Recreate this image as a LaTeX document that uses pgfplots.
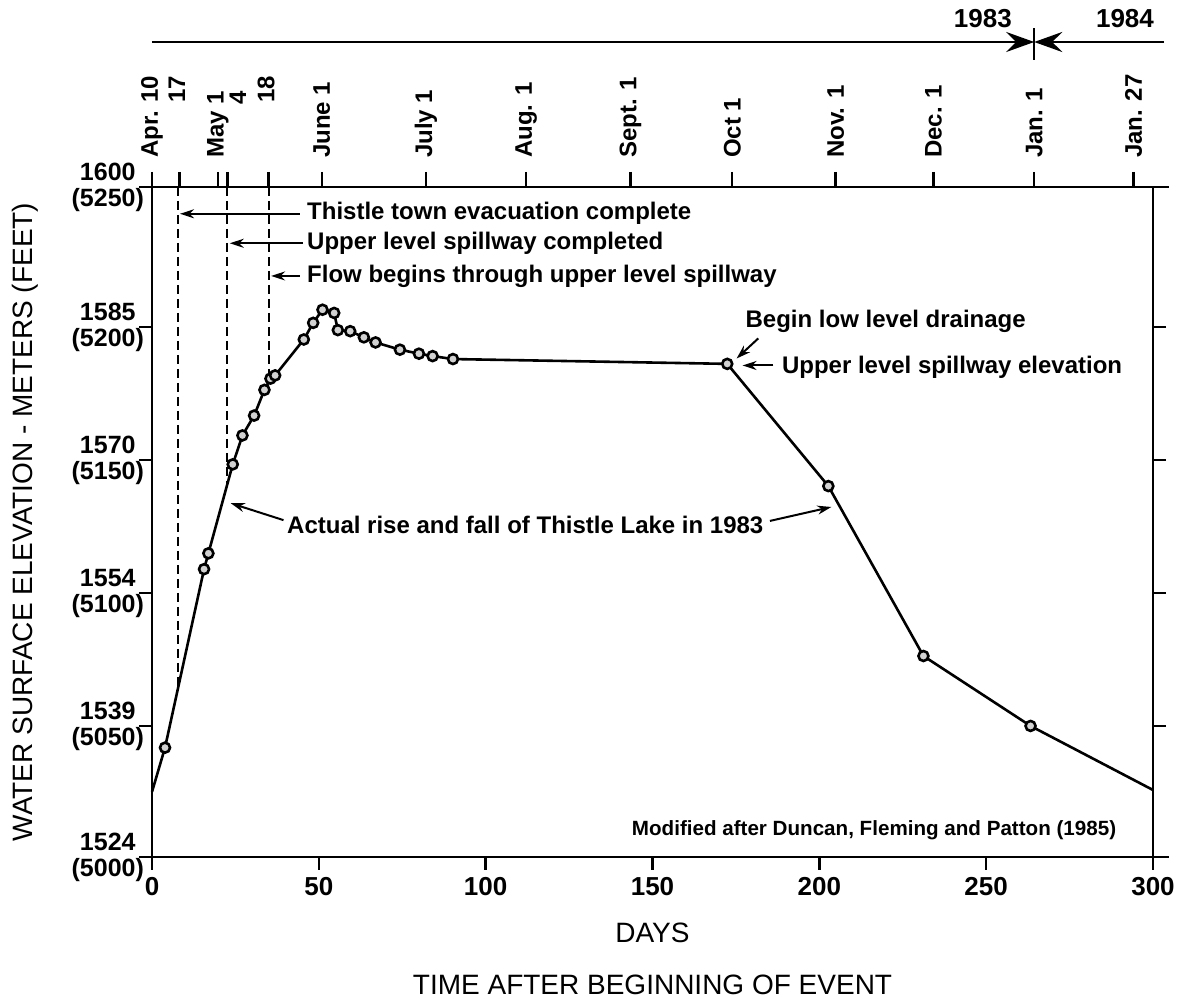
\documentclass[border=0pt]{standalone}
\usepackage{fontspec}
\setmainfont{Liberation Sans}
\usepackage{pgfplots}
\pgfplotsset{compat=1.18}
\usetikzlibrary{arrows.meta}

\newcommand{\annot}{\bfseries\fontsize{12}{14}\selectfont}

\begin{document}
\begin{tikzpicture}
\begin{axis}[
    scale only axis, width=500.5pt, height=335pt,
    xmin=0, xmax=300, ymin=5000, ymax=5250,
    clip=false,
    axis line style={line width=1.3pt},
    tick align=outside, major tick length=6.5pt,
    tick style={black, line width=1.2pt},
    xtick={0,50,100,150,200,250,300},
    xticklabels={0,50,100,150,200,250,300},
    xtick pos=left,
    ytick={5000,5048.9,5098.5,5148.1,5197.8,5250},
    yticklabels={{1524\\(5000)},{1539\\(5050)},{1554\\(5100)},{1570\\(5150)},{1585\\(5200)},{1600\\(5250)}},
    ytick pos=both, yticklabel pos=left,
    xticklabel style={font=\bfseries\fontsize{13}{13}\selectfont},
    yticklabel style={align=center, font=\bfseries\fontsize{12.5}{13}\selectfont, xshift=6pt},
]
\coordinate (O) at (rel axis cs:0,0);
\coordinate (T) at (rel axis cs:1,1);

% lake level, days after Apr. 10 1983 vs elevation in feet
\addplot[black, line width=1.3pt] coordinates {
    (0,5024.3) (3.9,5040.8) (15.6,5107.4) (16.9,5113.3) (24.2,5146.5) (27.1,5157.3)
    (30.6,5164.7) (33.7,5174.3) (35.5,5178.5) (36.9,5179.7) (45.5,5193.1) (48.3,5199.3)
    (51.1,5204.2) (54.6,5203.0) (55.7,5196.6) (59.4,5196.2) (63.5,5193.9) (67.0,5192.0)
    (74.3,5189.3) (80.0,5187.8) (84.1,5186.9) (90.2,5185.8) (172.4,5184.0) (202.7,5138.4)
    (231.2,5075.0) (263.3,5048.9) (300,5025.0)
};
\addplot[only marks, mark=*, mark size=2.5pt,
    mark options={fill=gray!35, draw=black, line width=1.3pt}] coordinates {
    (3.9,5040.8) (15.6,5107.4) (16.9,5113.3) (24.2,5146.5) (27.1,5157.3)
    (30.6,5164.7) (33.7,5174.3) (35.5,5178.5) (36.9,5179.7) (45.5,5193.1) (48.3,5199.3)
    (51.1,5204.2) (54.6,5203.0) (55.7,5196.6) (59.4,5196.2) (63.5,5193.9) (67.0,5192.0)
    (74.3,5189.3) (80.0,5187.8) (84.1,5186.9) (90.2,5185.8) (172.4,5184.0) (202.7,5138.4)
    (231.2,5075.0) (263.3,5048.9)
};

% event lines
\draw[line width=1pt, dash pattern=on 4.5pt off 2.5pt] (axis cs:7.7,5250) -- (axis cs:7.7,5062.4);
\draw[line width=1pt, dash pattern=on 4.5pt off 2.5pt] (axis cs:22.6,5250) -- (axis cs:22.6,5139.5);
\draw[line width=1pt, dash pattern=on 4.5pt off 2.5pt] (axis cs:35.0,5250) -- (axis cs:35.0,5177.3);

% longer axis lines as in the original
\draw[line width=1.3pt] ([xshift=-6pt]rel axis cs:0,1) -- ([xshift=8pt]rel axis cs:1,1);
\draw[line width=1.3pt] ([xshift=-6pt]rel axis cs:0,0) -- ([xshift=8pt]rel axis cs:1,0);
\draw[line width=1.3pt] ([yshift=-6pt]rel axis cs:0,0) -- ([yshift=3pt]rel axis cs:0,1);
\draw[line width=1.3pt] ([yshift=-4pt]rel axis cs:1,0) -- (rel axis cs:1,1);

% annotations
\tikzset{ann/.style={-{Stealth[length=7pt,width=4.5pt]}, line width=1pt}}
\node[anchor=west, font=\annot, inner sep=0pt] at (axis cs:46.4,5240.0) {Thistle town evacuation complete};
\draw[ann] (axis cs:44.3,5240.0) -- (axis cs:8.4,5240.0);
\node[anchor=west, font=\annot, inner sep=0pt] at (axis cs:46.4,5229.0) {Upper level spillway completed};
\draw[ann] (axis cs:45.3,5229.0) -- (axis cs:23.3,5229.0);
\node[anchor=west, font=\annot, inner sep=0pt] at (axis cs:46.4,5216.5) {Flow begins through upper level spillway};
\draw[ann] (axis cs:44.3,5216.8) -- (axis cs:35.7,5216.8);

\node[anchor=west, font=\annot, inner sep=0pt] at (axis cs:177.8,5199.7) {Begin low level drainage};
\draw[ann] (axis cs:181.7,5193.5) -- (axis cs:175.2,5186.0);
\node[anchor=west, font=\annot, inner sep=0pt] at (axis cs:188.7,5182.9) {Upper level spillway elevation};
\draw[ann] (axis cs:186.2,5183.4) -- (axis cs:177.0,5183.4);

\node[anchor=west, font=\annot, inner sep=0pt] at (axis cs:40.4,5123.9) {Actual rise and fall of Thistle Lake in 1983};
\draw[ann] (axis cs:39.4,5125.7) -- (axis cs:23.6,5132.0);
\draw[ann] (axis cs:185.2,5125.4) -- (axis cs:203.6,5130.6);

\node[font=\bfseries\fontsize{10.3}{11}\selectfont] at (axis cs:216.4,5010.1) {Modified after Duncan, Fleming and Patton (1985)};

% year bar
\draw[line width=1.2pt, -{Stealth[length=14pt,width=10pt,inset=5pt]}] (axis cs:0,5304.1) -- (axis cs:264.4,5304.1);
\draw[line width=1.2pt, -{Stealth[length=14pt,width=10pt,inset=5pt]}] (axis cs:303.3,5304.1) -- (axis cs:264.4,5304.1);
\draw[line width=1.2pt] (axis cs:264.4,5297.4) -- (axis cs:264.4,5309.3);
\node[font=\bfseries\fontsize{13}{13}\selectfont] at (axis cs:249,5313) {1983};
\node[font=\bfseries\fontsize{13}{13}\selectfont] at (axis cs:291.6,5313) {1984};

% axis titles
\node[rotate=90, font=\fontsize{14}{14}\selectfont] at ([xshift=-63.5pt]rel axis cs:0,0.5) {WATER SURFACE ELEVATION - METERS (FEET)};
\node[font=\fontsize{14}{14}\selectfont] at ([yshift=-38pt]rel axis cs:0.5,0) {DAYS};
\node[font=\fontsize{14}{14}\selectfont] at ([yshift=-64pt]rel axis cs:0.5,0) {TIME AFTER BEGINNING OF EVENT};
\end{axis}

% calendar dates along the top
\begin{axis}[
    scale only axis, width=500.5pt, height=335pt,
    xmin=0, xmax=300, ymin=5000, ymax=5250,
    hide y axis,
    axis line style={line width=1.3pt},
    tick align=outside, major tick length=7.5pt,
    tick style={black, line width=1.2pt},
    xtick pos=right, xticklabel pos=right,
    xtick={0,8.2,19.7,22.6,34.9,50.9,82.1,112.1,143.4,173.9,204.9,234.2,264.4,294.2},
    xticklabels={Apr. 10,\phantom{Apr. }17,May 1,\phantom{May }\raisebox{-6.5pt}[\height][0pt]{4},\phantom{Apr. }18,June 1,July 1,Aug. 1,Sept. 1,Oct 1,Nov. 1,Dec. 1,Jan. 1,Jan. 27},
    xticklabel style={rotate=90, anchor=west, xshift=3.5pt, font=\bfseries\fontsize{12}{12}\selectfont},
]
\end{axis}

\pgfresetboundingbox
\path ([xshift=-76pt,yshift=-71pt]O) rectangle ([xshift=17pt,yshift=93.5pt]T);
\end{tikzpicture}
\end{document}
